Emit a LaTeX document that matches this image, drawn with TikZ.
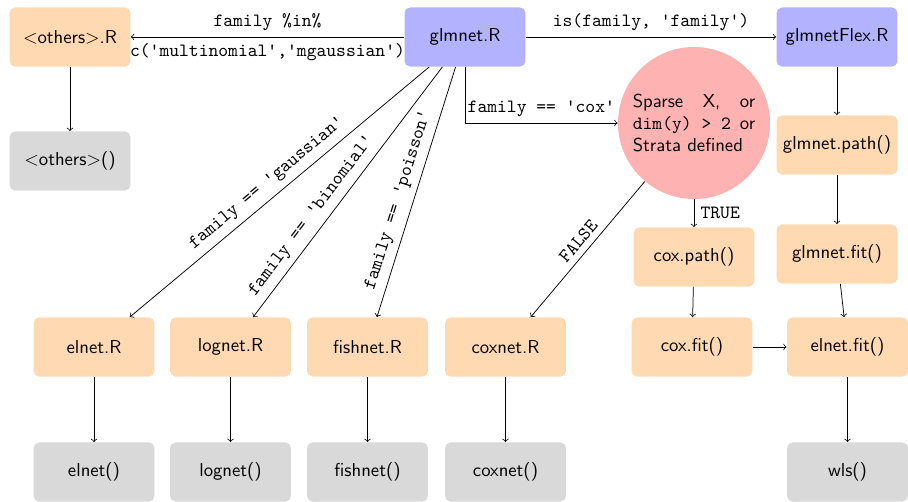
\documentclass[tikz,border=0pt]{standalone}
\usetikzlibrary{calc}
\begin{document}
\begin{tikzpicture}[x=0.5348pt, y=-0.5348pt, >=to,
  box/.style={rectangle, rounded corners=3pt, minimum width=64.7pt,
    minimum height=31.6pt, inner sep=2pt, font=\sffamily},
  filebox/.style={box, fill=orange!30},
  entrybox/.style={box, fill=blue!30},
  fnbox/.style={box, fill=gray!30},
  code/.style={font=\ttfamily},
  arr/.style={->, line width=0.4pt}]
\useasboundingbox (0,0) rectangle (908,501);

% top row
\node[filebox]  (others)  at (70,37)   {$<$others$>$.R};
\node[entrybox] (glmnet)  at (465,37)  {glmnet.R};
\node[entrybox] (flex)    at (837,37)  {glmnetFlex.R};
\node[fnbox]    (othersf) at (70,161)  {$<$others$>$()};

% cox decision
\node[circle, fill=red!30, minimum size=81.3pt, inner sep=0pt,
  text width=2.3cm, align=justify, font=\sffamily] (cond) at (694,123)
  {Sparse X, or\linebreak \texttt{dim(y) > 2} or\linebreak Strata defined};

% glmnetFlex branch
\node[filebox] (gpath)    at (837,145) {glmnet.path()};
\node[filebox] (gfit)     at (837,254) {glmnet.fit()};
\node[filebox] (coxpath)  at (694,257) {cox.path()};
\node[filebox] (coxfit)   at (692,347) {cox.fit()};
\node[filebox] (elnetfit) at (847.5,347) {elnet.fit()};
\node[fnbox]   (wls)      at (847.5,472) {wls()};

% family-specific files and routines
\node[filebox] (elnetR)   at (94,347)    {elnet.R};
\node[filebox] (lognetR)  at (230.5,347) {lognet.R};
\node[filebox] (fishnetR) at (367.5,347) {fishnet.R};
\node[filebox] (coxnetR)  at (505.5,347) {coxnet.R};
\node[fnbox] (elnetf)   at (94,472)    {elnet()};
\node[fnbox] (lognetf)  at (230.5,472) {lognet()};
\node[fnbox] (fishnetf) at (367.5,472) {fishnet()};
\node[fnbox] (coxnetf)  at (505.5,472) {coxnet()};

% connectors
\draw[arr] (glmnet) -- node[above, code] {family \%in\%}
  node[below, code] {c('multinomial','mgaussian')} (others);
\draw[arr] (others) -- (othersf);
\draw[arr] (glmnet) -- node[above, code] {is(family, 'family')} (flex);
\draw[arr] (glmnet.south) |- node[pos=0.75, above, code] {family == 'cox'} (cond.west);

\draw[arr] (glmnet) -- node[pos=0.51, above, sloped, code] {family == 'gaussian'} (elnetR);
\draw[arr] (glmnet) -- node[pos=0.63, above, sloped, code] {family == 'binomial'} (lognetR);
\draw[arr] (glmnet) -- node[pos=0.55, above, sloped, code] {family == 'poisson'} (fishnetR);

\draw[arr] (cond) -- node[midway, above, sloped, code] {FALSE} (coxnetR);
\draw[arr] (cond) -- node[right, code] {TRUE} (coxpath);
\draw[arr] (coxpath) -- (coxfit);
\draw[arr] (coxfit) -- (elnetfit);

\draw[arr] (flex) -- (gpath);
\draw[arr] (gpath) -- (gfit);
\draw[arr] (gfit) -- (elnetfit);
\draw[arr] (elnetfit) -- (wls);

\draw[arr] (elnetR) -- (elnetf);
\draw[arr] (lognetR) -- (lognetf);
\draw[arr] (fishnetR) -- (fishnetf);
\draw[arr] (coxnetR) -- (coxnetf);
\end{tikzpicture}
\end{document}
